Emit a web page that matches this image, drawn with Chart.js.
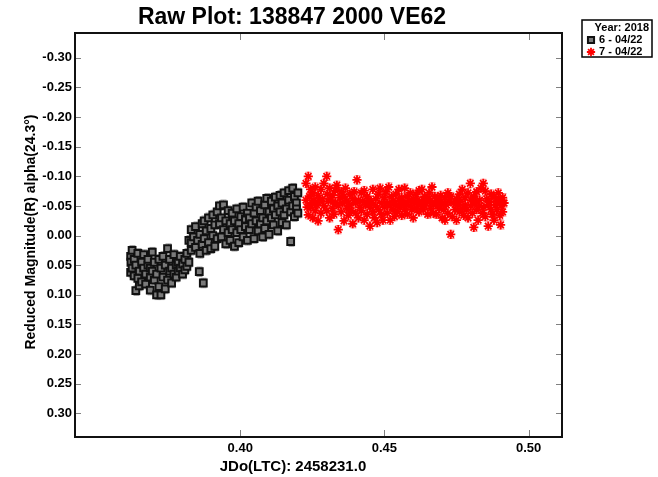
<!DOCTYPE html>
<html>
<head>
<meta charset="utf-8">
<script src="https://cdn.jsdelivr.net/npm/chart.js@4"></script>
<style>
  body { margin: 0; background: #fff; }
  canvas { display: block; }
</style>
</head>
<body>
<canvas id="rawPlot" width="658" height="477"></canvas>
<script>
const titleText = 'Raw Plot: 138847 2000 VE62';
const xTitle = 'JDo(LTC): 2458231.0';
const yTitle = 'Reduced Magnitude(R) alpha(24.3°)';
const legendHeader = 'Year: 2018';
const seriesNames = ['6 - 04/22', '7 - 04/22'];
const xTicks = [0.40, 0.45, 0.50];
const yTicks = [-0.30, -0.25, -0.20, -0.15, -0.10, -0.05, 0.00, 0.05, 0.10, 0.15, 0.20, 0.25, 0.30];
const errSize = [0.008, 0.007];

// night of 6 (JD offset, reduced mag)
const night6 = [
  [0.3620,0.035],[0.3620,0.062],[0.3621,0.045],[0.3625,0.025],[0.3625,0.055],
  [0.3632,0.068],[0.3632,0.040],[0.3638,0.093],[0.3638,0.050],[0.3645,0.072],
  [0.3645,0.030],[0.3650,0.060],[0.3650,0.085],[0.3658,0.045],[0.3658,0.078],
  [0.3665,0.055],[0.3665,0.032],[0.3672,0.082],[0.3672,0.065],[0.3680,0.050],
  [0.3680,0.040],[0.3688,0.070],[0.3688,0.092],[0.3688,0.055],[0.3695,0.028],
  [0.3695,0.060],[0.3702,0.075],[0.3702,0.045],[0.3710,0.100],[0.3710,0.065],
  [0.3718,0.040],[0.3718,0.086],[0.3725,0.100],[0.3725,0.055],[0.3732,0.070],
  [0.3732,0.035],[0.3740,0.090],[0.3740,0.050],[0.3748,0.022],[0.3748,0.075],
  [0.3755,0.060],[0.3755,0.040],[0.3762,0.080],[0.3762,0.055],[0.3770,0.032],
  [0.3770,0.065],[0.3778,0.050],[0.3778,0.070],[0.3785,0.045],[0.3785,0.060],
  [0.3792,0.055],[0.3792,0.035],[0.3800,0.065],[0.3800,0.048],[0.3808,0.040],
  [0.3808,0.058],[0.3815,0.052],[0.3815,0.030],[0.3822,0.008],[0.3822,0.045],
  [0.3830,-0.010],[0.3830,0.025],[0.3830,0.012],[0.3838,0.002],[0.3858,0.061],
  [0.3845,0.020],[0.3845,-0.015],[0.3872,0.080],[0.3852,0.008],[0.3860,-0.002],
  [0.3860,0.030],[0.3868,-0.020],[0.3868,0.015],[0.3875,0.005],[0.3875,-0.025],
  [0.3882,0.025],[0.3882,-0.008],[0.3890,0.012],[0.3890,-0.030],[0.3898,-0.012],
  [0.3898,0.022],[0.3905,0.000],[0.3905,-0.035],[0.3912,0.018],[0.3912,-0.018],
  [0.3920,-0.040],[0.3920,0.005],[0.3928,-0.020],[0.3928,-0.050],[0.3935,0.002],
  [0.3935,-0.030],[0.3942,-0.052],[0.3942,-0.010],[0.3950,0.014],[0.3950,-0.025],
  [0.3958,-0.042],[0.3958,-0.005],[0.3965,-0.020],[0.3965,0.008],[0.3972,-0.038],
  [0.3972,-0.010],[0.3980,0.018],[0.3980,-0.025],[0.3988,-0.005],[0.3988,-0.045],
  [0.3995,-0.020],[0.3995,0.012],[0.4002,-0.032],[0.4002,-0.010],[0.4010,0.002],
  [0.4010,-0.048],[0.4018,-0.015],[0.4018,-0.028],[0.4025,-0.038],[0.4025,0.008],
  [0.4032,-0.010],[0.4032,-0.030],[0.4040,-0.020],[0.4040,-0.055],[0.4048,0.005],
  [0.4048,-0.038],[0.4055,-0.025],[0.4055,-0.048],[0.4062,-0.008],[0.4062,-0.058],
  [0.4070,-0.042],[0.4070,-0.020],[0.4078,-0.030],[0.4078,0.002],[0.4085,-0.052],
  [0.4085,-0.012],[0.4092,-0.025],[0.4092,-0.063],[0.4100,-0.040],[0.4100,-0.002],
  [0.4108,-0.058],[0.4108,-0.030],[0.4115,-0.018],[0.4115,-0.045],[0.4122,-0.065],
  [0.4122,-0.035],[0.4130,-0.008],[0.4130,-0.050],[0.4138,-0.040],[0.4138,-0.068],
  [0.4145,-0.022],[0.4145,-0.055],[0.4152,-0.072],[0.4152,-0.035],[0.4160,-0.045],
  [0.4160,-0.018],[0.4168,-0.060],[0.4168,-0.076],[0.4175,0.010],[0.4175,-0.040],
  [0.4182,-0.080],[0.4182,-0.050],[0.4188,-0.032],[0.4188,-0.066],[0.4195,-0.055],
  [0.4195,-0.045],[0.4200,-0.072],[0.4200,-0.038]
];

// night of 7
const night7 = [
  [0.4228,-0.060],[0.4228,-0.088],[0.4232,-0.048],[0.4236,-0.100],[0.4236,-0.035],
  [0.4240,-0.066],[0.4244,-0.048],[0.4244,-0.078],[0.4248,-0.055],[0.4252,-0.030],
  [0.4252,-0.072],[0.4256,-0.060],[0.4260,-0.082],[0.4260,-0.042],[0.4265,-0.052],
  [0.4270,-0.068],[0.4270,-0.025],[0.4275,-0.058],[0.4280,-0.038],[0.4280,-0.078],
  [0.4285,-0.062],[0.4290,-0.050],[0.4290,-0.088],[0.4300,-0.100],[0.4300,-0.042],
  [0.4302,-0.070],[0.4305,-0.058],[0.4310,-0.030],[0.4310,-0.080],[0.4315,-0.060],
  [0.4320,-0.046],[0.4320,-0.068],[0.4325,-0.036],[0.4330,-0.076],[0.4330,-0.055],
  [0.4335,-0.085],[0.4340,-0.010],[0.4340,-0.050],[0.4345,-0.064],[0.4350,-0.040],
  [0.4350,-0.074],[0.4355,-0.055],[0.4360,-0.025],[0.4360,-0.066],[0.4365,-0.080],
  [0.4370,-0.046],[0.4370,-0.058],[0.4375,-0.034],[0.4380,-0.070],[0.4380,-0.052],
  [0.4385,-0.042],[0.4390,-0.020],[0.4390,-0.062],[0.4395,-0.074],[0.4400,-0.055],
  [0.4400,-0.038],[0.4405,-0.094],[0.4410,-0.060],[0.4410,-0.030],[0.4415,-0.048],
  [0.4420,-0.072],[0.4420,-0.042],[0.4425,-0.058],[0.4430,-0.076],[0.4430,-0.026],
  [0.4435,-0.052],[0.4440,-0.036],[0.4440,-0.066],[0.4445,-0.060],[0.4450,-0.016],
  [0.4450,-0.048],[0.4455,-0.055],[0.4460,-0.078],[0.4460,-0.040],[0.4465,-0.030],
  [0.4470,-0.062],[0.4470,-0.050],[0.4475,-0.022],[0.4480,-0.044],[0.4480,-0.070],
  [0.4485,-0.080],[0.4490,-0.055],[0.4490,-0.036],[0.4495,-0.026],[0.4500,-0.064],
  [0.4500,-0.048],[0.4505,-0.074],[0.4510,-0.038],[0.4510,-0.055],[0.4515,-0.082],
  [0.4520,-0.050],[0.4520,-0.026],[0.4525,-0.066],[0.4530,-0.044],[0.4530,-0.058],
  [0.4535,-0.032],[0.4540,-0.070],[0.4540,-0.052],[0.4545,-0.040],[0.4550,-0.060],
  [0.4550,-0.078],[0.4555,-0.048],[0.4560,-0.034],[0.4560,-0.064],[0.4565,-0.055],
  [0.4570,-0.080],[0.4570,-0.044],[0.4575,-0.052],[0.4580,-0.066],[0.4580,-0.036],
  [0.4585,-0.058],[0.4590,-0.050],[0.4590,-0.072],[0.4595,-0.044],[0.4600,-0.062],
  [0.4600,-0.030],[0.4605,-0.055],[0.4610,-0.070],[0.4610,-0.046],[0.4615,-0.060],
  [0.4620,-0.040],[0.4620,-0.076],[0.4625,-0.052],[0.4630,-0.078],[0.4630,-0.058],
  [0.4635,-0.044],[0.4640,-0.066],[0.4640,-0.050],[0.4645,-0.055],[0.4650,-0.036],
  [0.4650,-0.062],[0.4655,-0.072],[0.4660,-0.046],[0.4660,-0.058],[0.4665,-0.082],
  [0.4670,-0.052],[0.4670,-0.038],[0.4675,-0.066],[0.4680,-0.058],[0.4680,-0.036],
  [0.4685,-0.050],[0.4690,-0.060],[0.4690,-0.046],[0.4695,-0.068],[0.4700,-0.030],
  [0.4700,-0.055],[0.4705,-0.044],[0.4710,-0.064],[0.4710,-0.026],[0.4715,-0.052],
  [0.4720,-0.038],[0.4720,-0.072],[0.4725,-0.058],[0.4730,-0.002],[0.4730,-0.066],
  [0.4735,-0.032],[0.4740,-0.055],[0.4745,-0.044],[0.4750,-0.062],[0.4750,-0.026],
  [0.4755,-0.052],[0.4760,-0.070],[0.4760,-0.040],[0.4765,-0.058],[0.4770,-0.046],
  [0.4770,-0.078],[0.4775,-0.034],[0.4780,-0.064],[0.4780,-0.052],[0.4785,-0.044],
  [0.4790,-0.072],[0.4790,-0.030],[0.4798,-0.088],[0.4800,-0.050],[0.4800,-0.060],
  [0.4805,-0.038],[0.4810,-0.066],[0.4810,-0.014],[0.4815,-0.055],[0.4820,-0.044],
  [0.4820,-0.074],[0.4825,-0.026],[0.4830,-0.060],[0.4830,-0.050],[0.4835,-0.080],
  [0.4840,-0.038],[0.4843,-0.088],[0.4845,-0.048],[0.4850,-0.075],[0.4850,-0.032],
  [0.4855,-0.062],[0.4860,-0.016],[0.4860,-0.052],[0.4865,-0.057],[0.4870,-0.044],
  [0.4870,-0.070],[0.4875,-0.036],[0.4880,-0.066],[0.4880,-0.026],[0.4885,-0.052],
  [0.4890,-0.058],[0.4890,-0.044],[0.4895,-0.072],[0.4900,-0.034],[0.4900,-0.060],
  [0.4903,-0.018],[0.4905,-0.050],[0.4910,-0.064],[0.4910,-0.040],[0.4915,-0.055]
];

const font = 'Liberation Sans, Arial, sans-serif';

// error bars, frame, inside ticks, titles and legend
const extras = {
  id: 'extras',
  beforeDatasetsDraw(chart) {
    const { ctx, scales: { x, y } } = chart;
    const colors = ['#9a9a9a', '#ff8c8c'];
    ctx.save();
    ctx.lineWidth = 1;
    chart.data.datasets.forEach((ds, i) => {
      ctx.strokeStyle = colors[i];
      ds.data.forEach(p => {
        const px = Math.round(x.getPixelForValue(p.x)) + 0.5;
        const t = y.getPixelForValue(p.y - errSize[i]);
        const b = y.getPixelForValue(p.y + errSize[i]);
        ctx.beginPath();
        ctx.moveTo(px, t); ctx.lineTo(px, b);
        ctx.moveTo(px - 3, t); ctx.lineTo(px + 3, t);
        ctx.moveTo(px - 3, b); ctx.lineTo(px + 3, b);
        ctx.stroke();
      });
    });
    ctx.restore();
  },
  afterDraw(chart) {
    const { ctx, chartArea: a, scales: { x, y } } = chart;
    ctx.save();
    // inside ticks
    ctx.strokeStyle = '#808080';
    ctx.lineWidth = 1;
    ctx.beginPath();
    yTicks.forEach(v => {
      const py = Math.round(y.getPixelForValue(v)) + 0.5;
      ctx.moveTo(a.left, py); ctx.lineTo(a.left + 6, py);
      ctx.moveTo(a.right - 6, py); ctx.lineTo(a.right, py);
    });
    xTicks.forEach(v => {
      const px = Math.round(x.getPixelForValue(v)) + 0.5;
      ctx.moveTo(px, a.bottom); ctx.lineTo(px, a.bottom - 7);
      ctx.moveTo(px, a.top); ctx.lineTo(px, a.top + 7);
    });
    ctx.stroke();
    // frame
    ctx.strokeStyle = '#111';
    ctx.lineWidth = 2;
    ctx.strokeRect(a.left, a.top, a.right - a.left, a.bottom - a.top);

    // titles
    ctx.fillStyle = '#000';
    ctx.textAlign = 'center';
    ctx.textBaseline = 'middle';
    ctx.font = 'bold 23px ' + font;
    ctx.fillText(titleText, 292, 18);
    ctx.font = 'bold 15px ' + font;
    ctx.fillText(xTitle, 293, 467);
    ctx.save();
    ctx.translate(31, (a.top + a.bottom) / 2 - 3);
    ctx.rotate(-Math.PI / 2);
    ctx.font = 'bold 14px ' + font;
    ctx.fillText(yTitle, 0, 0);
    ctx.restore();

    // legend
    ctx.fillStyle = '#fff';
    ctx.fillRect(582, 20, 70, 37);
    ctx.strokeStyle = '#000';
    ctx.lineWidth = 1.5;
    ctx.strokeRect(582, 20, 70, 37);
    ctx.fillStyle = '#000';
    ctx.font = 'bold 11px ' + font;
    ctx.textAlign = 'right';
    ctx.fillText(legendHeader, 649, 28);
    ctx.textAlign = 'left';
    chart.data.datasets.forEach((ds, i) => {
      const ly = 40 + i * 12;
      ctx.fillStyle = ds.backgroundColor;
      ctx.strokeStyle = ds.borderColor;
      ctx.lineWidth = ds.borderWidth;
      Chart.helpers.drawPoint(ctx, {
        pointStyle: ds.pointStyle, radius: ds.pointRadius * 0.9, borderWidth: ds.borderWidth
      }, 591, ly);
      ctx.fillStyle = '#000';
      ctx.fillText(seriesNames[i], 599, ly);
    });
    ctx.restore();
  }
};

const ctx = document.getElementById('rawPlot').getContext('2d');

const config = {
  type: 'scatter',
  data: {
    datasets: [
      {
        label: seriesNames[0],
        data: night6.map(p => ({ x: p[0], y: p[1] })),
        pointStyle: 'rect',
        pointRadius: 4.8,
        borderWidth: 2,
        borderColor: '#111',
        backgroundColor: '#7a7a7a'
      },
      {
        label: seriesNames[1],
        data: night7.map(p => ({ x: p[0], y: p[1] })),
        pointStyle: 'star',
        pointRadius: 4.6,
        borderWidth: 1.8,
        borderColor: '#ff0000',
        backgroundColor: '#ff0000'
      }
    ]
  },
  options: {
    responsive: false,
    animation: false,
    layout: { padding: { left: 0, top: 33, right: 96, bottom: 0 } },
    plugins: {
      legend: { display: false },
      title: { display: false },
      tooltip: { enabled: false }
    },
    scales: {
      x: {
        type: 'linear',
        min: 0.3427,
        max: 0.5116,
        grid: { display: false, drawTicks: false },
        border: { display: false },
        afterBuildTicks: axis => { axis.ticks = xTicks.map(v => ({ value: v })); },
        afterFit: axis => { axis.height = 40; },
        ticks: {
          padding: 4,
          color: '#000',
          font: { family: font, size: 13, weight: 'bold' },
          callback: v => v.toFixed(2)
        }
      },
      y: {
        type: 'linear',
        reverse: true,
        min: -0.342,
        max: 0.340,
        grid: { display: false, drawTicks: false },
        border: { display: false },
        afterBuildTicks: axis => { axis.ticks = yTicks.map(v => ({ value: v })); },
        afterFit: axis => { axis.width = 75; },
        ticks: {
          padding: 3,
          color: '#000',
          font: { family: font, size: 13, weight: 'bold' },
          callback: v => v.toFixed(2)
        }
      }
    }
  },
  plugins: [extras]
};

const rawPlot = new Chart(ctx, config);
</script>
</body>
</html>
